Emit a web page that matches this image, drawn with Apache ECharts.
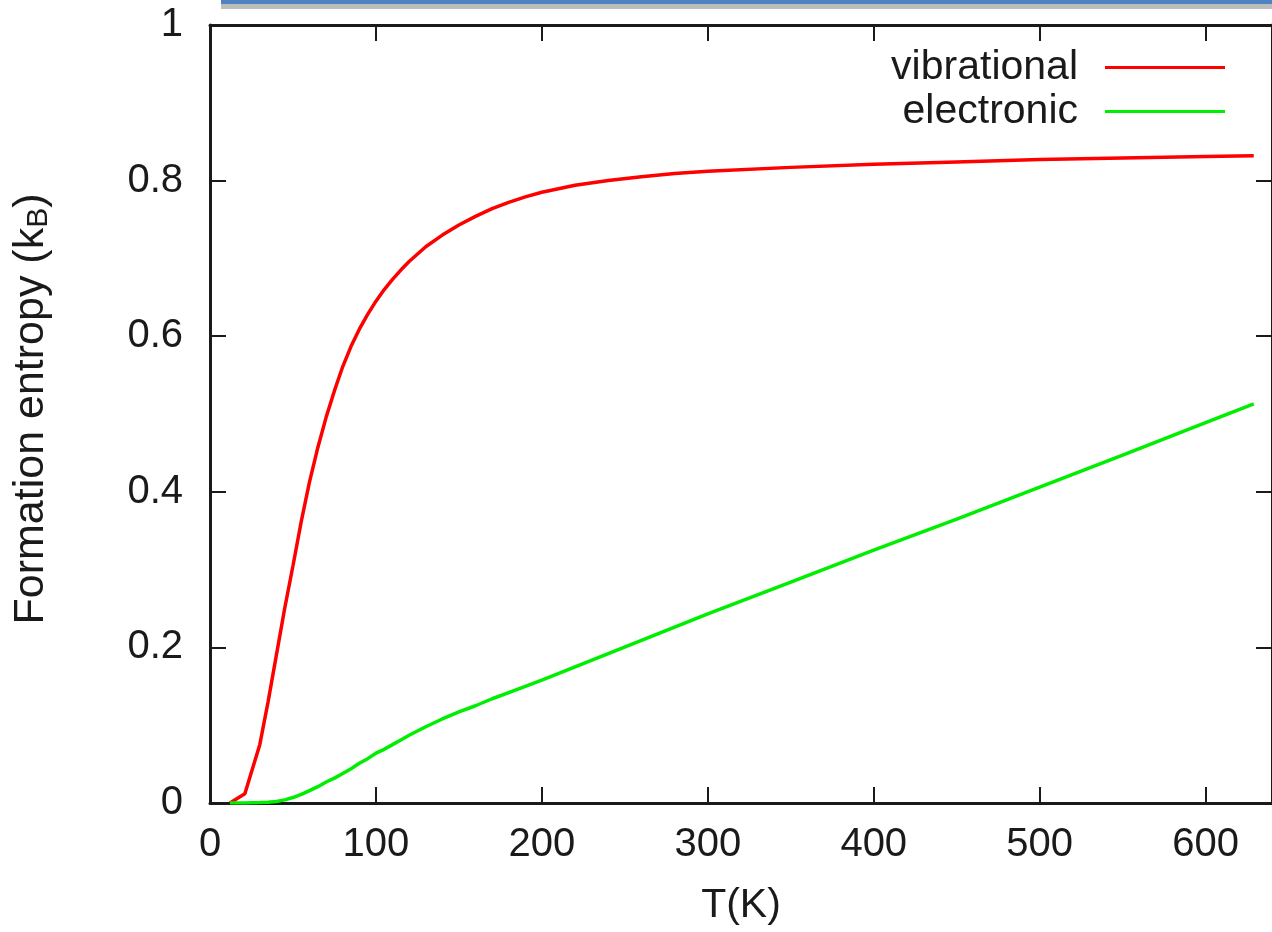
<!DOCTYPE html>
<html>
<head>
<meta charset="utf-8">
<script src="https://cdn.jsdelivr.net/npm/echarts@6/dist/echarts.min.js"></script>
<style>
html,body{margin:0;padding:0;background:#fff;}
#chart{width:1272px;height:932px;}
</style>
</head>
<body>
<div id="chart"></div>
<script>
// ---- data ----
const temperatureK = [12,21,30,35,40,45,50,55,60,65,70,75,80,85,90,95,100,105,110,115,120,130,140,150,160,170,180,190,200,220,240,260,280,300,350,400,450,500,550,600,629];
const vibrational = [0,0.012,0.075,0.13,0.19,0.25,0.305,0.362,0.413,0.457,0.496,0.53,0.561,0.587,0.609,0.628,0.645,0.66,0.673,0.685,0.696,0.715,0.73,0.743,0.754,0.764,0.772,0.779,0.785,0.794,0.8,0.805,0.809,0.812,0.817,0.821,0.824,0.827,0.829,0.831,0.832];
const electronic = [0,0,0.0005,0.001,0.002,0.004,0.007,0.011,0.016,0.021,0.027,0.032,0.038,0.044,0.051,0.057,0.064,0.069,0.075,0.081,0.087,0.098,0.108,0.117,0.125,0.134,0.142,0.150,0.158,0.175,0.192,0.209,0.226,0.243,0.284,0.325,0.365,0.406,0.447,0.489,0.513];
const seriesNames = ['vibrational','electronic'];
const xTicks = [0,100,200,300,400,500,600];
const yTicks = [0,0.2,0.4,0.6,0.8,1];
const xTitle = 'T(K)';

const FONT = '"Liberation Sans", Arial, Helvetica, sans-serif';
const pairs = (xs, ys) => xs.map((x, i) => [x, ys[i]]);

const chart = echarts.init(document.getElementById('chart'), null, {renderer: 'canvas'});
const axisLineStyle = {color: '#1a1a1a', width: 3};
const tickStyle = {color: '#1a1a1a', width: 2};

chart.setOption({
  animation: false,
  backgroundColor: '#fff',
  grid: {left: 210, top: 25, width: 1066.7, height: 778, containLabel: false},
  legend: {
    data: seriesNames,
    orient: 'vertical',
    right: 42,
    top: 42,
    align: 'right',
    icon: 'rect',
    itemWidth: 120,
    itemHeight: 3,
    itemGap: 3,
    textStyle: {fontFamily: FONT, fontSize: 41, color: '#1a1a1a', lineHeight: 40, padding: [0, 22, 0, 0]}
  },
  xAxis: [{
    type: 'value', min: 0, max: 640, interval: 100, position: 'bottom',
    axisLine: {show: true, onZero: false, lineStyle: axisLineStyle},
    axisTick: {show: true, inside: true, length: 16, lineStyle: tickStyle},
    axisLabel: {fontFamily: FONT, fontSize: 40, color: '#1a1a1a', margin: 22, showMaxLabel: false,
      formatter: v => xTicks.includes(v) ? String(v) : ''},
    splitLine: {show: false},
    name: xTitle, nameLocation: 'middle', nameGap: 82,
    nameTextStyle: {fontFamily: FONT, fontSize: 41, color: '#1a1a1a'}
  }, {
    type: 'value', min: 0, max: 640, interval: 100, position: 'top',
    axisLine: {show: true, onZero: false, lineStyle: axisLineStyle},
    axisTick: {show: true, inside: true, length: 16, lineStyle: tickStyle},
    axisLabel: {show: false}, splitLine: {show: false}
  }],
  yAxis: [{
    type: 'value', min: 0, max: 1, interval: 0.2, position: 'left',
    axisLine: {show: true, onZero: false, lineStyle: axisLineStyle},
    axisTick: {show: true, inside: true, length: 16, lineStyle: tickStyle},
    axisLabel: {fontFamily: FONT, fontSize: 40, color: '#1a1a1a', margin: 27,
      formatter: v => yTicks.some(t => Math.abs(t - v) < 1e-9) ? String(+v.toFixed(1)) : ''},
    splitLine: {show: false}
  }, {
    type: 'value', min: 0, max: 1, interval: 0.2, position: 'right',
    axisLine: {show: true, onZero: false, lineStyle: axisLineStyle},
    axisTick: {show: true, inside: true, length: 16, lineStyle: tickStyle},
    axisLabel: {show: false}, splitLine: {show: false}
  }],
  graphic: [
    {type: 'rect', shape: {x: 221, y: 0, width: 1051, height: 4}, style: {fill: '#4f82c0'}, silent: true},
    {type: 'rect', shape: {x: 221, y: 4, width: 1051, height: 5}, style: {fill: '#bdbdbd'}, silent: true},
    {
      type: 'text', x: 31, y: 409, rotation: Math.PI / 2,
      style: {
        text: 'Formation entropy ({n|k}{s|B})',
        rich: {
          n: {fontFamily: FONT, fontSize: 43, fill: '#1a1a1a'},
          s: {fontFamily: FONT, fontSize: 30, fill: '#1a1a1a', padding: [15, 0, 0, 0]}
        },
        fontFamily: FONT, fontSize: 43, fill: '#1a1a1a',
        align: 'center', verticalAlign: 'middle'
      }
    }
  ],
  series: [{
    name: seriesNames[0], type: 'line', data: pairs(temperatureK, vibrational),
    symbol: 'none', smooth: false, lineStyle: {color: '#ff0000', width: 3.5}, itemStyle: {color: '#ff0000'}
  }, {
    name: seriesNames[1], type: 'line', data: pairs(temperatureK, electronic),
    symbol: 'none', smooth: false, lineStyle: {color: '#00ee00', width: 3.5}, itemStyle: {color: '#00ee00'}
  }]
});
</script>
</body>
</html>
